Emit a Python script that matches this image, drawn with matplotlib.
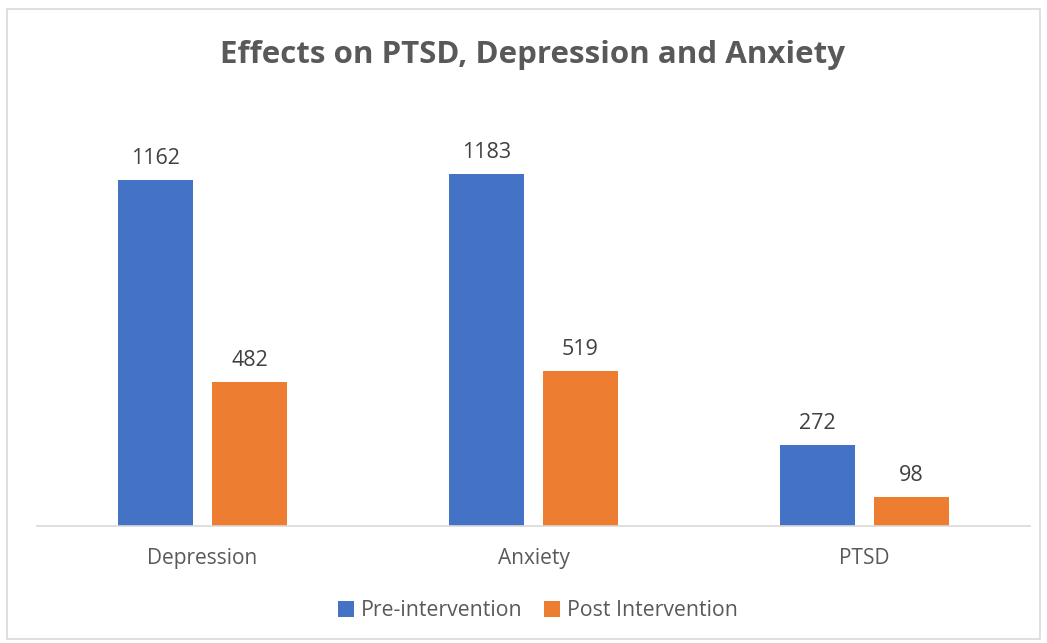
import numpy as np
import matplotlib.pyplot as plt
from matplotlib.patches import Rectangle

categories = ['Depression', 'Anxiety', 'PTSD']
pre_values = [1162, 1183, 272]
post_values = [482, 519, 98]
series_names = ['Pre-intervention', 'Post Intervention']

plt.rcParams['font.family'] = ['Open Sans', 'DejaVu Sans']

fig = plt.figure(figsize=(10.47, 6.43), dpi=100)
ax = fig.add_axes([37 / 1047, 1 - 526 / 643, 993 / 1047, 417 / 643])

x = np.arange(len(categories))
width = 0.224
offset = 0.142
b1 = ax.bar(x - offset, pre_values, width, color='#4472C4', label=series_names[0])
b2 = ax.bar(x + offset, post_values, width, color='#ED7D31', label=series_names[1])

for bars in (b1, b2):
    ax.bar_label(bars, padding=8, fontsize=15.5, color='#404040')

ax.set_xlim(-0.5, 2.5)
ax.set_ylim(0, 1400)
ax.set_xticks(x)
ax.set_xticklabels(categories, fontsize=15, color='#595959')
ax.tick_params(axis='x', length=0, pad=16)
ax.set_yticks([])
for s in ['top', 'right', 'left']:
    ax.spines[s].set_visible(False)
ax.spines['bottom'].set_color('#D9D9D9')
ax.spines['bottom'].set_linewidth(1.2)

fig.text(533 / 1047, 1 - 55 / 643, 'Effects on PTSD, Depression and Anxiety', ha='center', va='center',
         fontsize=22.5, fontweight='bold', color='#595959')

fig.legend(loc='center', bbox_to_anchor=(538 / 1047, 1 - 611 / 643), ncol=2, frameon=False,
           fontsize=15.3, labelcolor='#595959', handlelength=0.75, handleheight=0.75,
           columnspacing=1.0, handletextpad=0.35)

fig.patches.append(Rectangle((7 / 1047, 4 / 643), 1033 / 1047, 630 / 643, transform=fig.transFigure,
                             fill=False, edgecolor='#D9D9D9', linewidth=1.2))

plt.savefig('out.png', dpi=100)
